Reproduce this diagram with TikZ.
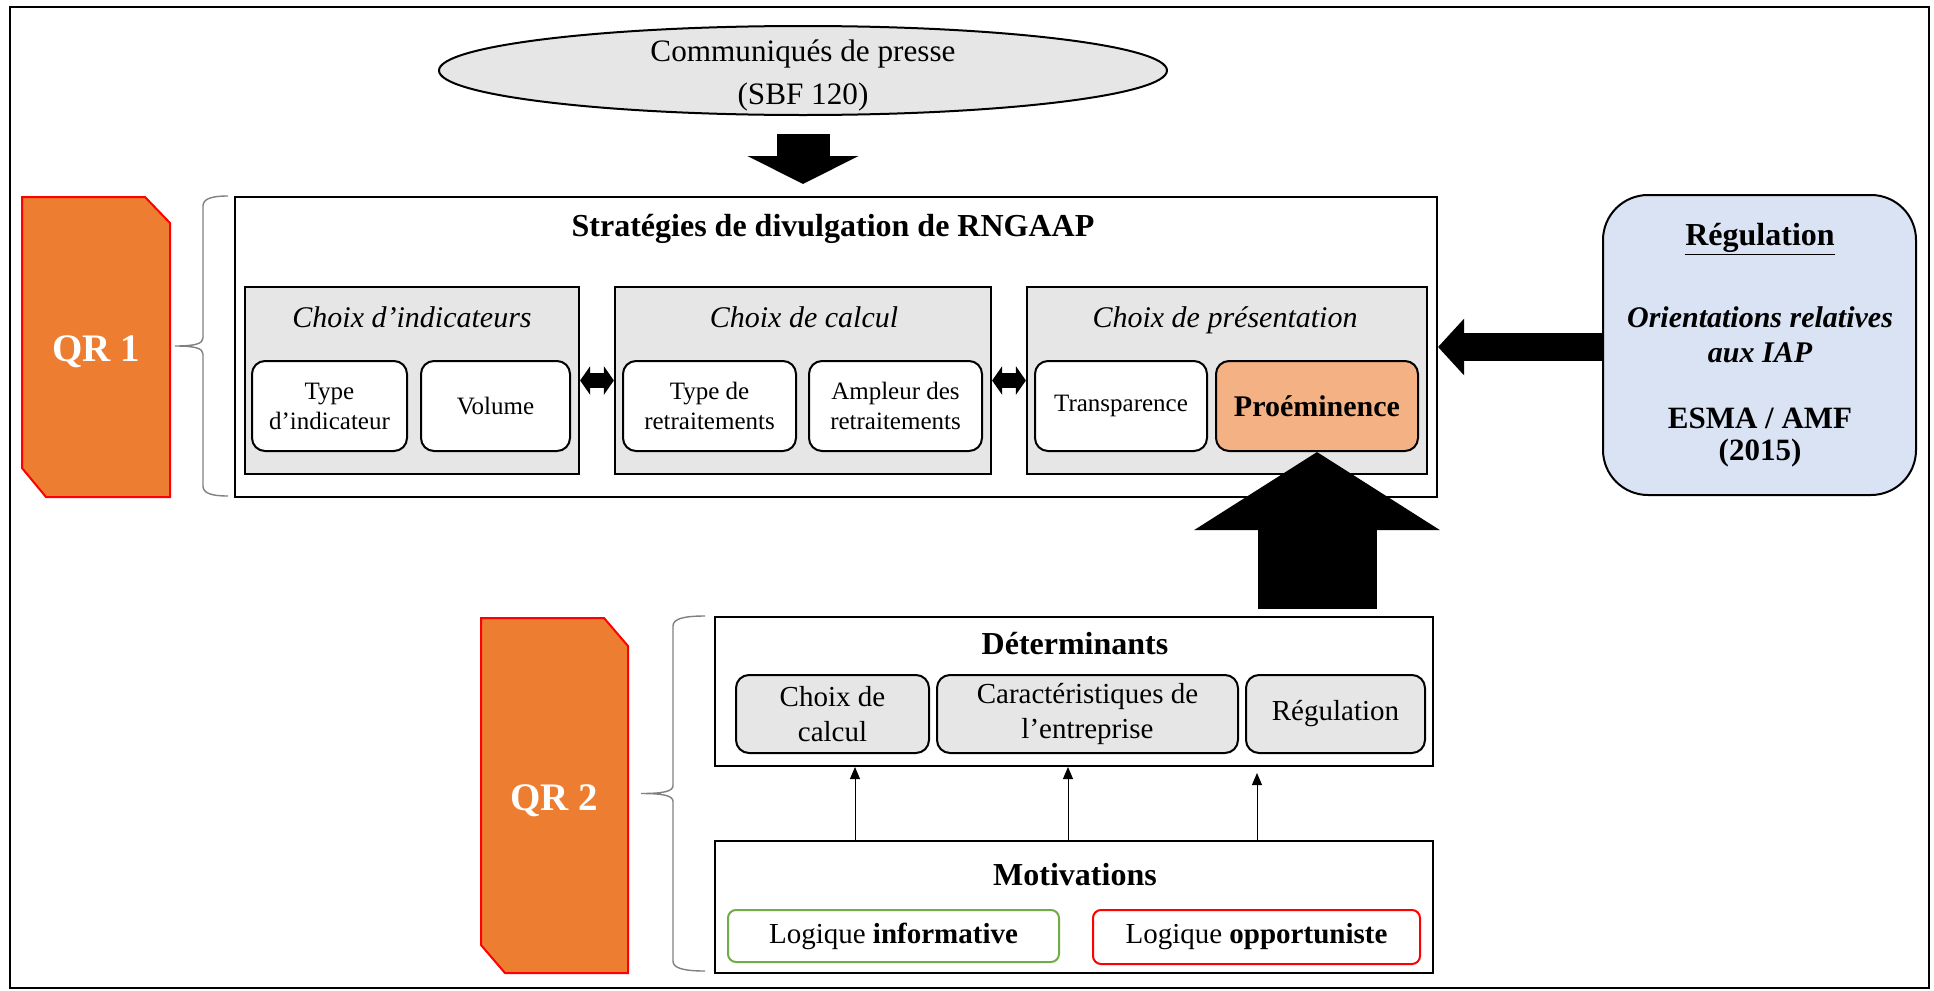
\documentclass[tikz,border=0pt]{standalone}
\usepackage{fontspec}
\setmainfont{Liberation Serif}
\usetikzlibrary{positioning,calc,shapes.geometric}
\usetikzlibrary{arrows.meta}
\definecolor{PanelGray}{RGB}{230,230,230}
\definecolor{QrOrange}{RGB}{237,125,49}
\definecolor{PromOrange}{RGB}{244,177,131}
\definecolor{RegBlue}{RGB}{218,227,243}
\definecolor{LogGreen}{RGB}{112,173,71}
\definecolor{LogRed}{RGB}{255,0,0}
\tikzset{
  srcell/.style={ellipse,draw=black,fill=PanelGray,line width=1pt,inner sep=0pt,
    minimum width=364pt,minimum height=44.5pt},
  srctxt/.style={align=center,inner sep=0pt,font=\fontsize{15.6}{21.5}\selectfont},
  bigbox/.style={draw=black,fill=white,line width=1pt,inner sep=0pt},
  maintitle/.style={anchor=base,inner sep=0pt,font=\bfseries\fontsize{16}{19}\selectfont},
  panel/.style={draw=black,fill=PanelGray,line width=1.1pt,inner sep=0pt,minimum height=93.5pt},
  paneltitle/.style={anchor=base,inner sep=0pt,font=\itshape\fontsize{15}{18}\selectfont},
  item/.style={draw=black,fill=white,line width=1pt,rounded corners=6.5pt,inner sep=0pt,
    minimum height=45pt,align=center,font=\fontsize{12.5}{15}\selectfont},
  detitem/.style={draw=black,fill=PanelGray,line width=1pt,rounded corners=6.5pt,inner sep=0pt,
    minimum height=39pt,align=center,font=\fontsize{14.5}{17.5}\selectfont},
  logicbox/.style={fill=white,line width=1pt,rounded corners=4pt,inner sep=0pt,
    align=center,font=\fontsize{14.5}{18}\selectfont},
  qrshape/.style={fill=QrOrange,draw=red,line width=1pt},
  qrlabel/.style={anchor=base,inner sep=0pt,text=white,font=\bfseries\fontsize{19.5}{24}\selectfont},
  qrbrace/.style={draw=black!50,line width=0.7pt},
  regbox/.style={draw=black,fill=RegBlue,line width=1pt,rounded corners=22.5pt,inner sep=0pt},
  fatarrow/.style={draw=black,line cap=butt},
  thinarrow/.style={draw=black,line width=0.5pt,-{Triangle[length=6pt,width=5pt]}},
}

\begin{document}
\begin{tikzpicture}[x=0.5pt,y=-0.5pt]
\useasboundingbox[fill=white] (0,0) rectangle (1934,991);
\draw[line width=1.2pt] (10,7) rectangle (1929,988);

% source
\node[srcell] (src) at (803,70.5) {};
\node[srctxt] (srctext) at (803,75) {Communiqués de presse\\(SBF 120)};

% strategies
\node[bigbox,minimum width=601pt,minimum height=150pt] (strat) at (836,347) {};
\node[maintitle] (strattitle) at (833,236) {Stratégies de divulgation de RNGAAP};
\node[panel,minimum width=167pt] (ind) at (412,380.5) {};
\node[panel,minimum width=188pt] (calc) at (803,380.5) {};
\node[panel,minimum width=200pt] (pres) at (1227,380.5) {};
\node[paneltitle] (indtitle) at (412,327) {Choix d’indicateurs};
\node[paneltitle] (calctitle) at (804,327) {Choix de calcul};
\node[paneltitle] (prestitle) at (1225,327) {Choix de présentation};
\node[item,minimum width=77.5pt] (tind) at (329.5,406) {Type\\d’indicateur};
\node[item,minimum width=74.5pt] (vol) at (495.5,406) {Volume};
\node[item,minimum width=86.5pt] (tret) at (709.5,406) {Type de\\retraitements};
\node[item,minimum width=86.5pt] (ampl) at (895.5,406) {Ampleur des\\retraitements};
\node[item,minimum width=86pt] (transp) at (1121,406) {Transparence};
\node[item,minimum width=101pt,fill=PromOrange,font=\bfseries\fontsize{15}{18}\selectfont] (prom) at (1317,406) {Proéminence};

% regulation
\node[regbox,minimum width=156.5pt,minimum height=150pt] (reg) at (1759.5,345) {};
\node[maintitle] (regtitle) at (1760,245) {\underline{Régulation}};
\node[srctxt,font=\bfseries\itshape\fontsize{15}{17.5}\selectfont] (regiap) at (1760,335) {Orientations relatives\\aux IAP};
\node[srctxt,font=\bfseries\fontsize{15.5}{16}\selectfont] (regsrc) at (1760,438) {ESMA / AMF\\(2015)};

% determinants and motivations
\node[bigbox,minimum width=359pt,minimum height=74.5pt] (determ) at (1074,691.5) {};
\node[maintitle] (determtitle) at (1075,654) {Déterminants};
\node[detitem,minimum width=96.5pt] (dcalc) at (832.5,714) {Choix de\\calcul};
\node[detitem,minimum width=150.5pt] (dcar) at (1087.5,714) {Caractéristiques de\\l’entreprise};
\node[detitem,minimum width=89.5pt] (dreg) at (1335.5,714) {Régulation};
\node[bigbox,minimum width=359pt,minimum height=66pt] (motiv) at (1074,907) {};
\node[maintitle] (motivtitle) at (1075,885) {Motivations};
\node[logicbox,draw=LogGreen,minimum width=165.5pt,minimum height=26pt] (linfo) at (893.5,936) {Logique \textbf{informative}};
\node[logicbox,draw=LogRed,minimum width=163.5pt,minimum height=27pt] (lopp) at (1256.5,937) {Logique \textbf{opportuniste}};

% research questions
\draw[qrshape] (22,197) -- (145,197) -- (170,223) -- (170,497) -- (46,497) -- (22,468) -- cycle;
\node[qrlabel] (qr1) at (96,361) {QR 1};
\draw[qrshape] (481,618) -- (604,618) -- (628,646) -- (628,973) -- (505,973) -- (481,945) -- cycle;
\node[qrlabel] (qr2) at (554,810) {QR 2};
% braces
\draw[qrbrace] ([xshift=-3pt]strat.north west)
  .. controls +(-17,0) and +(0,-7) .. ++(-25,10) -- ++(0,132)
  .. controls +(0,6) and +(19,0) .. ++(-28,8)
  .. controls +(19,0) and +(0,-6) .. ++(28,8) -- ++(0,132)
  .. controls +(0,7) and +(-17,0) .. ++(25,10);
\draw[qrbrace] ([xshift=-4.5pt]determ.north west)
  .. controls +(-22,0) and +(0,-7) .. ++(-32,10) -- ++(0,159.5)
  .. controls +(0,6) and +(22,0) .. ++(-32,8)
  .. controls +(22,0) and +(0,-6) .. ++(32,8) -- ++(0,159.5)
  .. controls +(0,7) and +(-22,0) .. ++(32,10);

% arrows
\draw[fatarrow,line width=26.5pt,-{Triangle[length=14pt,width=55pt]},shorten <=9pt,shorten >=6pt] (src.south) -- (src.south |- strat.north);
\draw[fatarrow,line width=14pt,-{Triangle[length=13pt,width=27.5pt]}] (reg.west |- strat.east) -- (strat.east);
\draw[fatarrow,line width=59.5pt,-{Triangle[length=39pt,width=121pt]},shorten <=3.5pt] (prom.south |- determ.north) -- (prom.south);
\draw[fatarrow,line width=7.5pt,{Triangle[length=5pt,width=14pt]}-{Triangle[length=5pt,width=14pt]}] (ind.east) -- (calc.west);
\draw[fatarrow,line width=7.5pt,{Triangle[length=5pt,width=14pt]}-{Triangle[length=5pt,width=14pt]}] (calc.east) -- (pres.west);
\coordinate (m1) at (855,800);
\coordinate (m2) at (1068,800);
\coordinate (m3) at (1257,800);
\draw[thinarrow] (motiv.north -| m1) -- (determ.south -| m1);
\draw[thinarrow] (motiv.north -| m2) -- (determ.south -| m2);
\draw[thinarrow,shorten >=3pt] (motiv.north -| m3) -- (determ.south -| m3);
\end{tikzpicture}
\end{document}
